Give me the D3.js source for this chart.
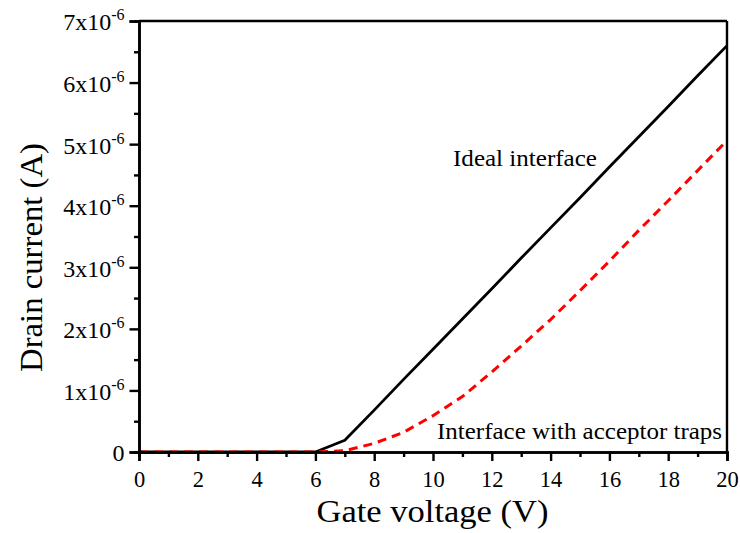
<!DOCTYPE html>
<html><head><meta charset="utf-8">
<script src="https://cdn.jsdelivr.net/npm/d3@7"></script>
<style>
html,body{margin:0;padding:0;background:#fff;}
svg{display:block;}
svg text{font-family:"Liberation Serif","Times New Roman",serif;}
</style></head>
<body><svg id="chart" width="740" height="533"></svg>
<script>
// Data (gate voltage in V, drain current in units of 1e-6 A)
const gateVoltage = [0,1,2,3,4,5,6,7,8,9,10,11,12,13,14,15,16,17,18,19,20];
const idealCurrent = [0,0,0,0,0,0,0,0.19,0.68,1.18,1.67,2.16,2.65,3.15,3.64,4.13,4.63,5.12,5.61,6.11,6.6];
const trapCurrent  = [0,0,0,0,0,0,0,0.02,0.14,0.32,0.59,0.9,1.3,1.72,2.15,2.62,3.1,3.6,4.08,4.57,5.06];
const xTickValues = [0,2,4,6,8,10,12,14,16,18,20];
const xMinorValues = [1,3,5,7,9,11,13,15,17,19];
const yTickValues = [0,1,2,3,4,5,6,7];
const yMinorValues = [0.5,1.5,2.5,3.5,4.5,5.5,6.5];
const yExponent = "-6";
const labelIdeal = "Ideal interface";
const labelTraps = "Interface with acceptor traps";
const xTitle = "Gate voltage (V)";
const yTitle = "Drain current (A)";

const svg = d3.select("#chart");
const m = {left:139, top:21, right:13, bottom:81};
const W = 740 - m.left - m.right, H = 533 - m.top - m.bottom;
const g = svg.append("g").attr("transform",`translate(${m.left},${m.top})`);

const x = d3.scaleLinear().domain([0,20]).range([0,W]);
const y = d3.scaleLinear().domain([0,7]).range([H,0]);

// frame top/right
g.append("line").attr("x1",0).attr("x2",W).attr("y1",0).attr("y2",0).attr("stroke","#000").attr("stroke-width",2.4);
g.append("line").attr("x1",W).attr("x2",W).attr("y1",0).attr("y2",H).attr("stroke","#000").attr("stroke-width",2.4);

// lines
const line = (vals) => d3.line().x((d,i)=>x(gateVoltage[i])).y(d=>y(d))(vals);
g.append("path").attr("d",line(idealCurrent)).attr("fill","none").attr("stroke","#000").attr("stroke-width",2.8).attr("stroke-linejoin","round");
g.append("path").attr("d",line(trapCurrent)).attr("fill","none").attr("stroke","#ff0000").attr("stroke-width",3).attr("stroke-dasharray","9,6");

// axes
const xAxis = g.append("g").attr("transform",`translate(0,${H})`)
  .call(d3.axisBottom(x).tickValues(xTickValues).tickSize(9).tickFormat(d3.format("d")));
const xMinor = g.append("g").attr("transform",`translate(0,${H})`)
  .call(d3.axisBottom(x).tickValues(xMinorValues).tickSize(5).tickFormat(""));
const yAxis = g.append("g")
  .call(d3.axisLeft(y).tickValues(yTickValues).tickSize(9.5).tickPadding(5).tickFormat(d=>d));
const yMinor = g.append("g")
  .call(d3.axisLeft(y).tickValues(yMinorValues).tickSize(5).tickFormat(""));

[xAxis,xMinor,yAxis,yMinor].forEach(a=>{
  a.attr("font-family",null);
  a.select(".domain").attr("stroke","#000").attr("stroke-width",2.6);
  a.selectAll(".tick line").attr("stroke","#000").attr("stroke-width",2.4);
});
xAxis.selectAll("text").attr("font-size",22.5).attr("fill","#000").attr("y",35).attr("dy",0);
yAxis.selectAll("text").attr("font-size",24).attr("fill","#000").attr("dy","0.37em")
  .each(function(d){
    const t = d3.select(this);
    t.text(null);
    if (d === 0) { t.text("0"); return; }
    t.append("tspan").text(d + "x10");
    t.append("tspan").attr("dy",-10).attr("font-size",16).text(yExponent);
  });

// annotations
g.append("text").attr("x",453-m.left).attr("y",166-m.top).attr("font-size",24).attr("fill","#000")
  .attr("textLength",144).attr("lengthAdjust","spacingAndGlyphs").text(labelIdeal);
g.append("text").attr("x",437-m.left).attr("y",439-m.top).attr("font-size",24).attr("fill","#000")
  .attr("textLength",285).attr("lengthAdjust","spacingAndGlyphs").text(labelTraps);

// axis titles
svg.append("text").attr("x",432.5).attr("y",522).attr("text-anchor","middle").attr("font-size",31).attr("fill","#000")
  .attr("textLength",232).attr("lengthAdjust","spacingAndGlyphs").text(xTitle);
svg.append("text").attr("transform","translate(42,257.5) rotate(-90)").attr("text-anchor","middle").attr("font-size",32).attr("fill","#000")
  .attr("textLength",229).attr("lengthAdjust","spacingAndGlyphs").text(yTitle);
</script></body></html>
